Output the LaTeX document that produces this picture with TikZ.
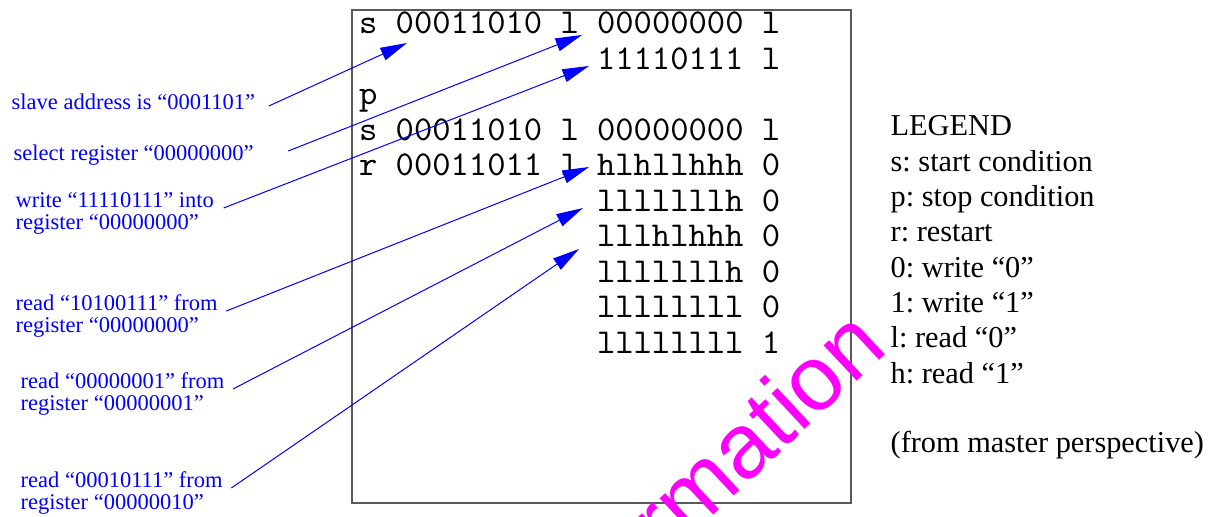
\documentclass[tikz,border=0pt]{standalone}
\usepackage{fontspec}
\setmainfont{Liberation Serif}
\setsansfont{Liberation Sans}
\usetikzlibrary{arrows.meta,calc}
\definecolor{stampmagenta}{RGB}{255,0,255}
\frenchspacing
\tikzset{
	bits/.style={anchor=base west, inner sep=0pt, font=\ttfamily\fontsize{10.46}{10.6}\selectfont},
	note/.style={anchor=base west, inner sep=0pt, text=blue, font=\fontsize{6.75}{6.9}\selectfont},
	key/.style={anchor=base west, inner sep=0pt, font=\fontsize{9.1}{10.6}\selectfont},
	pointer/.style={blue, line width=0.3pt, -{Triangle[length=8pt,width=4pt]}},
	stamp/.style={anchor=base east, inner sep=0pt, text=stampmagenta, rotate=43, font=\sffamily\fontsize{27.5}{27.5}\selectfont}
}

\begin{document}
\begin{tikzpicture}[x=0.3pt, y=-0.3pt]
	\useasboundingbox (0,0) rectangle (1210,517);

	% transfer listing
	\draw[black!65, line width=0.5pt] (352,10) rectangle (851,503);
	\node[bits] (row1) at (358.5,34) {s 00011010 l 00000000 l};
	\node[bits] (row2) at (596.4,69.5) {11110111 l};
	\node[bits] (row3) at (358.5,105) {p};
	\node[bits] (row4) at (358.5,140.5) {s 00011010 l 00000000 l};
	\node[bits] (row5) at (358.5,176) {r 00011011 l hlhllhhh 0};
	\foreach \bitstr [count=\i] in {lllllllh 0, lllhlhhh 0, lllllllh 0, llllllll 0, llllllll 1}
		\node[bits] (row\the\numexpr\i+5\relax) at (596.4,176+35.5*\i) {\bitstr};

	% arrow tips
	\coordinate (t1) at (407,43);
	\coordinate (t2) at (582,35);
	\coordinate (t3) at (589,66);
	\coordinate (t4) at (589,167);
	\coordinate (t5) at (583,208);
	\coordinate (t6) at (579,249);

	% notes
	\node[note] (n1) at (11,110) {slave address is “0001101”};
	\node[note] (n2) at (13,161) {select register “00000000”};
	\node[note] (n3) at (15,208) {write “11110111” into};
	\node[note] (n3b) at (15,230) {register “00000000”};
	\node[note] (n4) at (15,311) {read “10100111” from};
	\node[note] (n4b) at (15,333) {register “00000000”};
	\node[note] (n5) at (20,389) {read “00000001” from};
	\node[note] (n5b) at (20,411) {register “00000001”};
	\node[note] (n6) at (20,488) {read “00010111” from};
	\node[note] (n6b) at (20,510) {register “00000010”};

	\draw[pointer] (n1.base east) ++(13,-4) -- (t1);
	\draw[pointer] (n2.base east) ++(34,-10) -- (t2);
	\draw[pointer] (n3.base east) ++(9,0) -- (t3);
	\draw[pointer] (n4.base east) ++(8,0) -- (t4);
	\draw[pointer] (n5.base east) ++(8,0) -- (t5);
	\draw[pointer] (n6.base east) ++(8,0) -- (t6);

	% legend
	\foreach \keytxt [count=\i] in {LEGEND, s: start condition, p: stop condition, r: restart, 0: write “0”, 1: write “1”, l: read “0”, h: read “1”}
		\node[key] (key\i) at (890,136+35.3*\i-35.3) {\keytxt};
	\node[key] (keynote) at (890,453) {(from master perspective)};

	% watermark
	\begin{scope}
		\clip (0,0) rectangle (1210,517);
		\node[stamp] (mark) at (890,350) {rmation};
	\end{scope}
\end{tikzpicture}
\end{document}
